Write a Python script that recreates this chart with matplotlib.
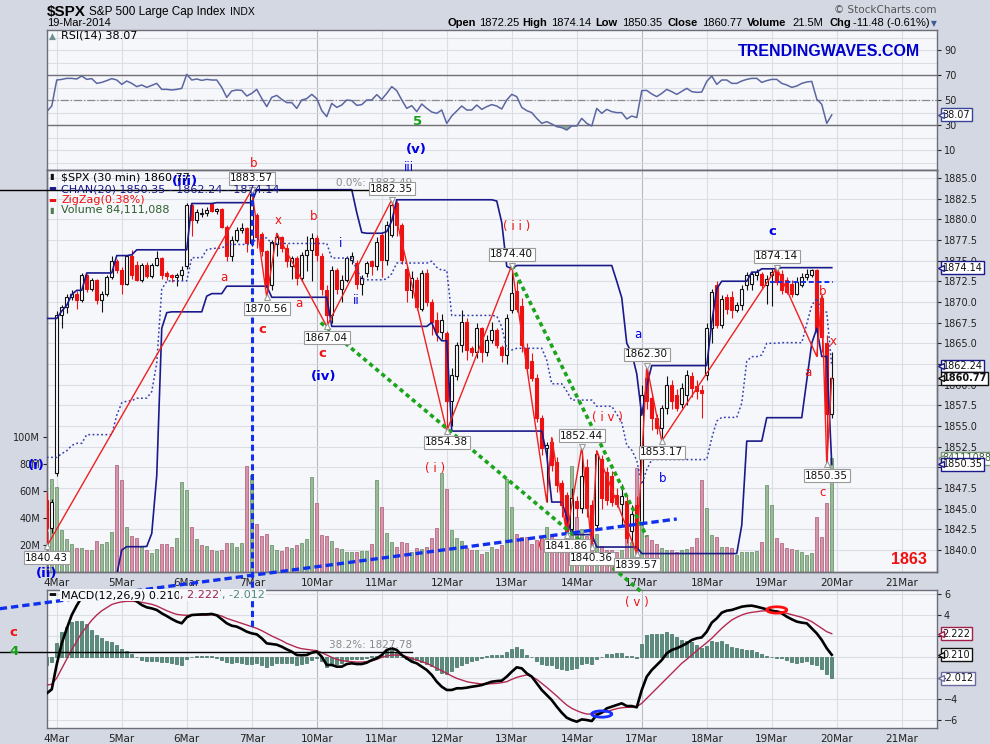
import matplotlib
matplotlib.use("Agg")
import matplotlib.pyplot as plt
from matplotlib.patches import Ellipse
import numpy as np

plt.rcParams["font.family"] = ["DejaVu Sans"]

# 30-minute bars: the last two bars of 3 Mar, then 13 bars per session from 4 Mar to 19 Mar 2014
days = ["4Mar", "5Mar", "6Mar", "7Mar", "10Mar", "11Mar", "12Mar", "13Mar",
        "14Mar", "17Mar", "18Mar", "19Mar", "20Mar", "21Mar"]

opens = [
    1846.0, 1842.7,
    1849.3, 1868.4, 1869.4, 1870.6, 1871.0, 1870.2, 1873.2, 1871.6, 1872.6, 1870.2, 1871.0, 1873.0, 1874.9,
    1873.9, 1872.2, 1875.5, 1874.5, 1872.7, 1874.5, 1873.1, 1874.5, 1875.3, 1873.5, 1873.3, 1873.0, 1873.3,
    1874.3, 1881.7, 1879.9, 1880.6, 1880.8, 1881.8, 1881.0, 1881.2, 1879.1, 1875.5, 1877.5, 1878.7, 1878.9,
    1877.1, 1880.5, 1878.2, 1876.1, 1872.0, 1877.0, 1877.8, 1876.5, 1874.3, 1875.3, 1872.9, 1875.7, 1876.3,
    1877.7, 1875.5, 1871.4, 1868.4, 1873.9, 1871.6, 1872.7, 1875.1, 1874.7, 1872.2, 1873.5, 1874.9, 1874.3,
    1878.1, 1875.1, 1878.1, 1881.9, 1879.3, 1874.0, 1871.4, 1872.7, 1869.2, 1873.5, 1870.0, 1867.8, 1866.4,
    1866.2, 1858.0, 1861.0, 1864.8, 1867.6, 1864.4, 1864.0, 1866.9, 1864.0, 1865.4, 1866.6, 1864.6, 1863.6,
    1869.0, 1871.3, 1869.5, 1864.4, 1862.8, 1860.8, 1856.0, 1852.3, 1853.1, 1850.7, 1848.1, 1846.7, 1842.5,
    1845.9, 1845.1, 1850.0, 1845.5, 1843.0, 1851.0, 1849.4, 1849.0, 1846.6, 1845.6, 1845.9, 1842.3, 1845.5,
    1843.4, 1860.8, 1858.4, 1856.0, 1854.8, 1857.2, 1860.0, 1858.8, 1857.6, 1858.8, 1861.0, 1859.8, 1859.4,
    1861.2, 1866.8, 1872.0, 1867.2, 1870.6, 1870.6, 1869.0, 1869.6, 1872.0, 1872.2, 1873.2, 1873.4, 1872.0,
    1873.2, 1873.8, 1873.4, 1872.6, 1872.2, 1871.0, 1872.0, 1873.0, 1873.2, 1873.8, 1870.5, 1865.0, 1856.5,
]
highs = [
    1847.0, 1846.2,
    1868.9, 1869.6, 1870.9, 1871.4, 1871.3, 1873.5, 1873.4, 1872.9, 1872.8, 1871.3, 1873.3, 1875.6, 1875.2,
    1874.2, 1875.7, 1876.3, 1875.0, 1874.7, 1874.8, 1874.7, 1876.2, 1875.4, 1873.7, 1873.4, 1873.5, 1874.3,
    1881.9, 1881.8, 1881.2, 1881.4, 1881.5, 1882.0, 1881.4, 1881.4, 1879.3, 1878.0, 1879.0, 1879.5, 1879.0,
    1883.57, 1880.8, 1878.4, 1876.3, 1877.5, 1878.3, 1878.0, 1877.0, 1875.6, 1875.5, 1876.0, 1878.0, 1878.3,
    1878.1, 1875.9, 1872.0, 1874.3, 1874.1, 1873.3, 1875.6, 1876.0, 1875.1, 1873.3, 1875.0, 1875.1, 1877.9,
    1878.5, 1879.8, 1882.35, 1882.2, 1879.6, 1874.3, 1873.7, 1873.0, 1873.9, 1874.0, 1870.3, 1868.8, 1868.5,
    1866.5, 1862.0, 1865.2, 1869.0, 1868.0, 1864.7, 1867.4, 1867.0, 1866.0, 1867.6, 1866.8, 1864.8, 1868.5,
    1874.40, 1872.5, 1870.5, 1865.0, 1863.8, 1861.3, 1856.3, 1853.0, 1853.6, 1851.3, 1848.5, 1847.0, 1847.5,
    1846.5, 1852.44, 1851.0, 1846.0, 1852.0, 1851.5, 1850.0, 1849.5, 1847.5, 1848.0, 1846.5, 1845.5, 1846.5,
    1859.9, 1862.30, 1859.0, 1856.5, 1857.5, 1861.0, 1860.6, 1859.5, 1860.2, 1861.8, 1861.5, 1860.5, 1860.0,
    1867.5, 1871.6, 1872.5, 1870.8, 1871.0, 1871.3, 1870.0, 1872.0, 1873.6, 1873.6, 1874.0, 1873.6, 1873.2,
    1874.0, 1874.14, 1873.8, 1873.0, 1872.6, 1873.0, 1873.5, 1874.0, 1874.0, 1874.0, 1870.8, 1866.0, 1864.0,
]
lows = [
    1840.43, 1842.0,
    1849.0, 1866.8, 1868.7, 1870.2, 1869.2, 1870.0, 1871.2, 1871.3, 1869.8, 1868.8, 1870.7, 1872.8, 1873.5,
    1871.0, 1872.0, 1872.8, 1872.5, 1872.4, 1872.9, 1872.9, 1874.3, 1872.8, 1872.6, 1872.4, 1871.9, 1872.7,
    1874.0, 1878.0, 1879.5, 1880.3, 1880.4, 1880.9, 1880.6, 1878.9, 1875.0, 1874.9, 1877.3, 1878.3, 1876.0,
    1876.8, 1876.5, 1875.5, 1870.56, 1871.5, 1875.5, 1876.0, 1874.2, 1872.8, 1872.0, 1872.5, 1873.7, 1872.5,
    1874.9, 1870.8, 1867.04, 1867.5, 1871.0, 1870.0, 1872.4, 1874.6, 1871.6, 1870.8, 1873.0, 1873.2, 1873.9,
    1873.0, 1874.5, 1877.9, 1878.0, 1874.6, 1870.0, 1870.5, 1869.0, 1868.9, 1869.5, 1866.0, 1865.3, 1865.5,
    1854.38, 1855.0, 1860.5, 1863.9, 1863.0, 1863.5, 1863.2, 1862.7, 1863.5, 1865.0, 1864.4, 1862.7, 1862.5,
    1868.6, 1868.8, 1864.0, 1861.5, 1860.4, 1855.5, 1851.5, 1845.8, 1849.5, 1847.0, 1844.0, 1841.86, 1842.0,
    1844.0, 1844.5, 1844.0, 1840.36, 1842.5, 1845.0, 1845.5, 1845.3, 1845.2, 1843.0, 1840.8, 1841.0, 1839.57,
    1843.0, 1857.0, 1854.5, 1854.0, 1853.17, 1856.5, 1857.0, 1856.8, 1857.2, 1857.5, 1858.5, 1858.2, 1856.0,
    1860.5, 1865.0, 1866.8, 1866.8, 1868.5, 1868.0, 1868.8, 1869.0, 1871.4, 1871.4, 1872.6, 1871.6, 1869.8,
    1869.5, 1872.0, 1871.0, 1870.9, 1870.6, 1870.8, 1871.8, 1872.6, 1873.0, 1863.4, 1864.0, 1850.35, 1856.0,
]
closes = [
    1842.7, 1845.8,
    1868.4, 1869.4, 1870.6, 1871.0, 1870.2, 1873.2, 1871.6, 1872.6, 1870.2, 1871.0, 1873.0, 1874.9, 1873.9,
    1872.2, 1875.5, 1873.3, 1872.7, 1874.5, 1873.1, 1874.5, 1875.3, 1873.3, 1873.1, 1873.0, 1873.3, 1873.9,
    1881.7, 1879.9, 1880.9, 1880.8, 1881.1, 1881.0, 1881.2, 1879.1, 1875.5, 1877.5, 1878.7, 1878.9, 1877.1,
    1883.0, 1877.9, 1876.1, 1871.8, 1877.3, 1877.8, 1876.5, 1875.0, 1875.3, 1872.9, 1875.7, 1876.3, 1877.7,
    1875.7, 1871.6, 1868.4, 1873.9, 1871.6, 1872.7, 1875.3, 1875.5, 1872.2, 1872.9, 1874.7, 1874.3, 1877.3,
    1875.1, 1879.3, 1881.7, 1879.3, 1875.1, 1871.4, 1872.9, 1869.4, 1873.5, 1870.0, 1867.6, 1866.4, 1867.8,
    1858.0, 1861.2, 1864.8, 1867.6, 1864.2, 1864.0, 1866.9, 1864.0, 1865.4, 1866.6, 1864.8, 1863.6, 1868.0,
    1871.1, 1869.1, 1864.8, 1862.0, 1860.8, 1856.0, 1852.3, 1852.7, 1850.3, 1847.9, 1845.4, 1842.3, 1846.3,
    1845.1, 1849.0, 1845.1, 1841.1, 1851.6, 1846.3, 1846.0, 1845.8, 1845.6, 1846.5, 1841.5, 1844.3, 1840.2,
    1858.8, 1858.0, 1856.0, 1854.8, 1857.2, 1860.0, 1858.0, 1857.2, 1859.6, 1861.2, 1859.6, 1859.2, 1859.0,
    1866.8, 1871.2, 1867.2, 1870.4, 1869.2, 1869.0, 1869.6, 1871.6, 1873.2, 1873.4, 1873.6, 1872.0, 1872.8,
    1873.6, 1872.4, 1871.4, 1871.2, 1871.0, 1872.4, 1873.0, 1873.4, 1873.8, 1866.5, 1865.8, 1856.5, 1860.77,
]
volume_m = [
    30.0, 68.9,
    62.7, 31.1, 24.4, 20.7, 17.5, 17.5, 16.3, 16.3, 22.9, 20.7, 21.9, 29.6, 79.3,
    68.1, 33.3, 26.7, 24.9, 18.3, 16.3, 14.1, 17.0, 20.5, 21.0, 18.5, 25.2, 66.6,
    60.7, 33.3, 24.4, 20.2, 19.3, 16.3, 15.8, 16.5, 21.2, 21.2, 18.5, 21.2, 78.5,
    72.0, 35.6, 26.7, 27.9, 20.0, 16.3, 15.6, 18.5, 17.8, 20.0, 21.5, 24.4, 70.4,
    51.1, 27.4, 26.7, 22.9, 17.8, 17.0, 14.8, 14.8, 14.8, 15.6, 15.6, 21.0, 68.1,
    48.1, 28.9, 22.2, 18.5, 22.2, 21.5, 14.8, 17.8, 17.0, 18.5, 25.2, 32.6, 73.2,
    61.5, 31.1, 25.2, 22.9, 17.8, 16.3, 16.3, 13.3, 15.1, 18.5, 17.0, 20.0, 68.9,
    48.4, 28.1, 26.2, 26.2, 20.7, 23.7, 25.4, 33.5, 27.7, 22.5, 20.0, 21.2, 78.5,
    41.0, 31.6, 26.7, 21.2, 28.1, 19.3, 16.3, 16.3, 15.1, 16.3, 26.2, 22.5, 76.8,
    48.4, 27.4, 23.7, 20.7, 17.5, 16.3, 16.3, 15.1, 16.3, 16.8, 18.8, 24.9, 68.1,
    47.2, 27.4, 26.2, 18.8, 18.8, 17.5, 12.6, 15.1, 15.1, 15.1, 15.6, 22.5, 64.4,
    49.6, 24.9, 21.7, 17.5, 16.8, 16.3, 15.1, 12.6, 13.8, 41.0, 26.2, 51.4, 84.1,
]
rsi = [
    40.7, 45.2,
    66.0, 66.5, 67.3, 67.3, 66.8, 69.2, 66.5, 67.1, 63.3, 64.1, 65.5, 67.1, 66.0,
    62.5, 65.2, 63.3, 60.7, 62.0, 60.1, 61.7, 63.3, 58.5, 58.5, 58.0, 58.5, 59.3,
    70.5, 66.0, 66.8, 65.7, 66.5, 66.0, 66.0, 60.1, 52.1, 57.2, 58.0, 57.7, 53.2,
    55.3, 58.5, 51.3, 44.7, 52.1, 53.7, 50.5, 47.9, 47.9, 43.3, 50.0, 51.1, 54.5,
    51.1, 41.5, 36.7, 47.3, 44.1, 46.0, 50.0, 49.5, 45.7, 46.3, 50.0, 50.0, 54.3,
    50.5, 55.3, 60.7, 57.5, 50.0, 43.3, 45.5, 40.7, 46.8, 43.3, 40.4, 39.3, 42.0,
    31.3, 37.2, 41.2, 45.2, 42.0, 42.0, 46.0, 42.5, 44.7, 46.3, 45.2, 42.8, 50.0,
    54.5, 52.7, 44.1, 41.5, 39.9, 35.3, 31.3, 32.7, 30.8, 28.7, 27.9, 26.0, 29.2,
    29.2, 35.3, 31.3, 29.2, 43.3, 39.3, 42.5, 40.7, 39.9, 39.9, 34.8, 37.2, 35.9,
    57.5, 57.7, 54.8, 52.7, 55.3, 58.5, 56.7, 54.5, 56.9, 59.3, 56.7, 56.1, 56.4,
    64.9, 69.2, 62.5, 66.0, 66.0, 63.3, 63.3, 65.2, 66.5, 67.3, 67.3, 64.1, 65.5,
    66.5, 66.5, 63.3, 62.0, 60.1, 61.2, 63.3, 64.4, 64.9, 50.8, 46.5, 31.3, 38.07,
]
macd = [
    -3.46, -3.08,
    -0.70, 1.30, 2.70, 4.00, 4.90, 5.70, 6.00, 6.10, 6.10, 6.20, 6.20, 6.40, 6.30,
    6.00, 5.90, 5.60, 5.30, 4.95, 4.73, 4.63, 4.48, 4.16, 3.90, 3.62, 3.37, 3.21,
    3.78, 4.00, 4.03, 4.06, 4.06, 4.10, 3.97, 3.59, 3.21, 2.98, 2.89, 2.67, 2.41,
    2.25, 2.16, 1.78, 1.30, 1.24, 1.17, 0.98, 0.73, 0.51, 0.19, 0.16, 0.19, 0.41,
    0.51, 0.03, -0.76, -0.76, -0.92, -0.92, -0.67, -0.60, -0.67, -0.67, -0.54, -0.29, -0.13,
    0.19, 0.67, 0.83, 0.67, 0.19, -0.13, -0.44, -0.60, -0.92, -1.24, -1.71, -2.35, -2.83,
    -3.14, -3.14, -2.98, -2.98, -2.92, -2.83, -2.76, -2.67, -2.51, -2.35, -2.29, -2.25, -1.87,
    -1.40, -0.98, -1.08, -1.56, -1.87, -2.51, -3.14, -3.62, -4.10, -4.73, -5.30, -5.78, -6.00,
    -6.16, -5.94, -6.00, -6.10, -5.52, -5.30, -4.89, -4.73, -4.57, -4.41, -4.67, -4.67, -4.79,
    -3.14, -1.87, -1.24, -0.76, -0.29, 0.35, 0.67, 0.83, 1.05, 1.30, 1.62, 1.78, 1.87,
    2.41, 3.27, 3.68, 4.22, 4.41, 4.48, 4.63, 4.79, 4.86, 4.89, 4.79, 4.67, 4.54,
    4.41, 4.32, 4.16, 3.84, 3.59, 3.37, 3.27, 3.21, 2.73, 2.25, 1.62, 0.83, 0.210,
]
signal = [
    -2.67, -2.60,
    -2.00, -1.10, -0.20, 0.70, 1.50, 2.30, 2.90, 3.50, 4.00, 4.40, 4.70, 5.00, 5.15,
    5.25, 5.30, 5.30, 5.27, 5.21, 5.11, 5.02, 4.86, 4.63, 4.41, 4.22, 4.06, 4.00,
    3.97, 3.97, 3.97, 3.97, 4.00, 4.03, 4.03, 3.90, 3.68, 3.52, 3.37, 3.21, 3.05,
    2.89, 2.73, 2.51, 2.25, 2.00, 1.78, 1.56, 1.30, 1.11, 0.92, 0.79, 0.73, 0.67,
    0.60, 0.41, 0.19, -0.03, -0.22, -0.35, -0.41, -0.44, -0.48, -0.48, -0.44, -0.38, -0.22,
    -0.03, 0.10, 0.19, 0.19, 0.16, 0.03, -0.13, -0.29, -0.44, -0.60, -0.83, -1.08, -1.30,
    -1.56, -1.81, -2.03, -2.19, -2.35, -2.44, -2.51, -2.57, -2.57, -2.54, -2.51, -2.44, -2.35,
    -2.13, -1.94, -1.81, -1.71, -1.87, -2.13, -2.51, -2.89, -3.30, -3.71, -4.16, -4.57, -4.89,
    -5.11, -5.30, -5.43, -5.43, -5.37, -5.30, -5.21, -5.05, -4.92, -4.83, -4.79, -4.79, -4.73,
    -4.41, -3.94, -3.46, -2.98, -2.51, -2.03, -1.56, -1.08, -0.60, -0.22, 0.19, 0.60, 0.98,
    1.37, 1.78, 2.25, 2.73, 3.14, 3.52, 3.78, 4.00, 4.16, 4.25, 4.32, 4.38, 4.41,
    4.41, 4.41, 4.29, 4.16, 4.03, 3.90, 3.78, 3.59, 3.37, 3.05, 2.73, 2.41, 2.222,
]

# 20-bar price channel carried in from before the first bar shown
chan_hi_before = 1868.0
chan_lo_head = [1834.4, 1834.4, 1834.4, 1834.4, 1834.4, 1834.4, 1834.4, 1834.4, 1834.4, 1834.4,
                1834.4, 1834.4, 1834.4, 1834.4, 1837.0, 1840.0, 1840.4, 1840.4, 1840.4, 1840.4]

# ZigZag(0.38%) turning points (bar, price)
zz_bar = [-2, 39, 42, 44, 54, 67, 78, 91, 98, 99, 102, 105, 107, 108, 116, 118, 121, 144, 152, 153, 154, 155]
zz_price = [1840.43, 1883.57, 1870.56, 1878.3, 1867.04, 1882.35, 1854.38, 1874.40, 1845.8, 1853.6,
            1841.86, 1852.44, 1840.36, 1852.0, 1839.57, 1862.30, 1853.17, 1874.14, 1863.4, 1870.8,
            1850.35, 1860.77]

# labelled pivots: bar, price, above?
pivot_bar = [-2, 39, 42, 54, 67, 78, 91, 102, 105, 107, 116, 118, 121, 144, 154]
pivot_price = [1840.43, 1883.57, 1870.56, 1867.04, 1882.35, 1854.38, 1874.40, 1841.86, 1852.44,
               1840.36, 1839.57, 1862.30, 1853.17, 1874.14, 1850.35]
pivot_above = [False, True, False, False, True, False, True, False, True, False, False, True,
               False, True, False]

# hand-drawn trend lines (bar, price)
green1 = ([52.8, 117.0], [1867.5, 1834.9])
green2 = ([91.0, 118.0], [1874.4, 1841.6])
blue_support = ([-11.4, 124.0], [1832.9, 1843.75])
blue_flat = ([142.6, 155.2], [1872.4, 1872.4])
fib_0 = 1883.49

# Elliott wave labels: bar, price, text, colour, bold
waves = [
    (39.4, 1886.7, "b", "red", False), (33.4, 1873.0, "a", "red", False),
    (44.2, 1879.9, "x", "red", False), (51.4, 1880.3, "b", "red", False),
    (48.4, 1869.8, "a", "red", False), (41.2, 1866.7, "c", "red", True),
    (53.2, 1863.8, "c", "red", True), (92.0, 1879.1, "( i i )", "red", False),
    (75.6, 1849.8, "( i )", "red", False), (99.6, 1840.5, "( i i i )", "red", False),
    (110.2, 1856.0, "( i v )", "red", False), (116.0, 1833.7, "( v )", "red", False),
    (153.2, 1871.2, "b", "red", False), (155.2, 1865.2, "x", "red", False),
    (150.2, 1861.5, "a", "red", False), (153.2, 1846.9, "c", "red", False),
    (-8.6, 1830.0, "c", "red", True),
    (25.6, 1884.6, "(iii)", "blue", True), (72.0, 1888.4, "(v)", "blue", True),
    (70.4, 1886.3, "iii", "blue", False), (56.8, 1877.1, "i", "blue", False),
    (60.0, 1870.2, "ii", "blue", False), (53.4, 1861.0, "(iv)", "blue", True),
    (-2.0, 1837.2, "(ii)", "blue", True), (-4.0, 1850.2, "(i)", "blue", True),
    (116.2, 1866.1, "a", "blue", False), (121.2, 1848.6, "b", "blue", False),
    (143.2, 1878.5, "c", "blue", True),
    (72.2, 1891.8, "5", "green", True), (-8.6, 1827.7, "4", "green", True),
]

# ---------------------------------------------------------------------------
W, H = 990, 744
BG = "#d4d8e2"
PANEL = "#f6f7fb"
GRID = "#dcdee6"
WAVE_COL = {"red": "#f01010", "blue": "#0000e6", "green": "#16a016"}
ARIAL = ["Liberation Sans", "DejaVu Sans"]


def P(x, y):
    return x / W, 1 - y / H


idx = np.arange(-2, len(closes) - 2)
o = np.array(opens)
h = np.array(highs)
l = np.array(lows)
c = np.array(closes)
n = len(c)

upper = np.empty(n)
lower = np.empty(n)
for k in range(n):
    if k < 20:
        upper[k] = max([chan_hi_before] + highs[:k])
        lower[k] = chan_lo_head[k]
    else:
        upper[k] = max(highs[k - 20:k])
        lower[k] = min(lows[k - 20:k])
middle = (upper + lower) / 2

fig = plt.figure(figsize=(W / 100, H / 100), dpi=100)
fig.patch.set_facecolor(BG)

ax_rsi = fig.add_axes([47 / W, 1 - 170 / H, 890 / W, 140 / H])
ax_m = fig.add_axes([47 / W, 1 - 728 / H, 890 / W, 138 / H])
ax_v = fig.add_axes([47 / W, 1 - 572 / H, 890 / W, 402 / H])
ax_p = fig.add_axes([47 / W, 1 - 572 / H, 890 / W, 402 / H])
ax_p.set_facecolor("none")

XL = (-1.95, 176.05)
for ax in (ax_rsi, ax_m, ax_v, ax_p):
    ax.set_xlim(*XL)
    for s in ax.spines.values():
        s.set_color("#6e6e78")
        s.set_linewidth(1)
for ax in (ax_rsi, ax_m, ax_v):
    ax.set_facecolor(PANEL)
    for d in range(len(days)):
        ax.axvline(13 * d, color="#b8bac4" if d in (4, 9) else GRID, lw=0.8, zorder=0)

ax_rsi.set_ylim(-6, 106)
ax_p.set_ylim(1837.34, 1885.95)
ax_v.set_ylim(0, 297.8)
ax_m.set_ylim(-6.76, 6.38)

for v in range(0, 101, 10):
    ax_rsi.axhline(v, color=GRID, lw=0.8, zorder=0)
for v in range(-6, 7, 2):
    ax_m.axhline(v, color=GRID, lw=0.8, zorder=0)

# ---------------- RSI ----------------
r = np.array(rsi)
ax_rsi.axhline(70, color="#707078", lw=1)
ax_rsi.axhline(30, color="#707078", lw=1)
ax_rsi.axhline(50, color="#8a8a90", lw=0.9, ls="-.")
ax_rsi.fill_between(idx, r, 30, where=r < 30, interpolate=True, color="#6f9a8a", alpha=0.8, lw=0)
ax_rsi.plot(idx, r, color="#5b66a0", lw=1.1)
ax_rsi.yaxis.tick_right()
ax_rsi.set_yticks([10, 30, 50, 70, 90])
ax_rsi.set_xticks([])
ax_rsi.tick_params(axis="y", labelsize=7, length=3, colors="#222", pad=2)

# ---------------- volume (behind price) ----------------
vol_up = np.r_[False, c[1:] >= c[:-1]]
ax_v.bar(idx, volume_m, width=0.6, color=np.where(vol_up, "#9bb89b", "#d594a8"),
         edgecolor=np.where(vol_up, "#6f9a6f", "#b56a84"), lw=0.6, zorder=1)
for v in np.arange(1840, 1886, 2.5):
    yv = (v - 1837.34) / (1885.95 - 1837.34) * 297.8
    ax_v.axhline(yv, color=GRID, lw=0.8, zorder=0)
ax_v.set_yticks([20, 40, 60, 80, 100])
ax_v.set_yticklabels(["20M", "40M", "60M", "80M", "100M"])
ax_v.tick_params(axis="y", labelsize=7, length=3, colors="#222", pad=2)
ax_v.set_xticks([])

# ---------------- price ----------------
up = c >= o
ax_p.vlines(idx, l, h, colors=np.where(up, "#111111", "#ee1111"), lw=0.8, zorder=3)
ax_p.bar(idx, np.maximum(np.abs(c - o), 0.06), bottom=np.minimum(o, c), width=0.6,
         color=np.where(up, "white", "#ee1111"), edgecolor=np.where(up, "#111111", "#ee1111"),
         lw=0.8, zorder=4)
ax_p.plot(idx, upper, color="#1a1a8a", lw=1.2, zorder=5)
ax_p.plot(idx, lower, color="#1a1a8a", lw=1.2, zorder=5)
ax_p.plot(idx, middle, color="#3540b0", lw=1.1, ls=(0, (1.2, 1.6)), zorder=5)
ax_p.plot(zz_bar, zz_price, color="#f02020", lw=1, zorder=6)

ax_p.plot(*green1, color="#1aa51a", lw=2.6, ls=(0, (1.2, 1.0)), clip_on=False, zorder=7)
ax_p.plot(*green2, color="#1aa51a", lw=2.6, ls=(0, (1.2, 1.0)), clip_on=False, zorder=7)
ax_p.plot(*blue_support, color="#1030ee", lw=2.4, ls=(0, (2.2, 1.2)), clip_on=False, zorder=7)
ax_p.plot(*blue_flat, color="#1030ee", lw=1.4, ls=(0, (2.5, 1.5)), zorder=7)
ax_p.plot([39, 39], [1883.57, 1830.3], color="#1030ee", lw=2.2, ls=(0, (2.0, 1.2)),
          clip_on=False, zorder=7)
ax_p.plot([-11.4, 71], [fib_0, fib_0], color="black", lw=1, clip_on=False, zorder=6)
ax_p.text(71, fib_0 + 0.25, "0.0%: 1883.49", ha="right", va="bottom", fontsize=7.5,
          color="#8a8a8a", zorder=8)

for b, p, above in zip(pivot_bar, pivot_price, pivot_above):
    ax_p.annotate(f"{p:.2f}", (b, p), xytext=(0, 4.5 if above else -4.5),
                  textcoords="offset points", ha="center", va="bottom" if above else "top",
                  fontsize=7.5, color="#111", zorder=12, annotation_clip=False,
                  bbox=dict(boxstyle="square,pad=0.15", fc="white", ec="#9a9a9a", lw=0.8))
    ax_p.plot([b], [p], marker="v" if above else "^", ms=4, mfc="white", mec="#9a9a9a",
              mew=0.8, zorder=11, clip_on=False)

for b, p, t, col, bold in waves:
    ax_p.text(b, p, t, ha="center", va="center", color=WAVE_COL[col],
              fontsize=9.5 if bold else 8.5, fontweight="bold" if bold else "normal", zorder=9)
ax_p.text(170.4, 1838.8, "1863", ha="center", va="center", color="#f01010", fontsize=11.5,
          fontweight="bold", family=ARIAL, zorder=9)

ax_p.yaxis.tick_right()
ax_p.set_yticks(np.arange(1840, 1886, 2.5))
ax_p.set_yticklabels([f"{v:.1f}" for v in np.arange(1840, 1886, 2.5)])
ax_p.tick_params(axis="y", labelsize=7, length=3, colors="#222", pad=2)
ax_p.set_xticks([13 * d for d in range(len(days))])
ax_p.set_xticklabels(days)
ax_p.tick_params(axis="x", labelsize=7.5, length=0, pad=4, colors="#222")

# ---------------- MACD ----------------
m = np.array(macd)
s = np.array(signal)
ax_m.bar(idx, m - s, width=0.6, color="#5b8d7d", edgecolor="#3f6f60", lw=0.5, zorder=2)
ax_m.plot(idx, s, color="#b3294f", lw=1, zorder=3)
ax_m.plot(idx, m, color="black", lw=1.9, zorder=4)
ax_m.plot([-11.4, 71], [0.45, 0.45], color="black", lw=1, clip_on=False, zorder=5)
ax_m.text(71, 0.7, "38.2%: 1827.78", ha="right", va="bottom", fontsize=7.5, color="#8a8a8a",
          zorder=6)
ax_m.add_patch(Ellipse((144, 4.48), 4.0, 0.6, fill=False, ec="#ff1010", lw=2, zorder=6))
ax_m.add_patch(Ellipse((109, -5.43), 4.0, 0.6, fill=False, ec="#1530ff", lw=2, zorder=6))
ax_m.yaxis.tick_right()
ax_m.set_yticks(range(-6, 7, 2))
ax_m.tick_params(axis="y", labelsize=7, length=3, colors="#222", pad=2)
ax_m.set_xticks([13 * d for d in range(len(days))])
ax_m.set_xticklabels(days)
ax_m.tick_params(axis="x", labelsize=7.5, length=0, pad=4, colors="#222")


# ---------------- right-hand value tags ----------------
def tag(ax, y, text, ec, tc="#111", bold=False):
    ax.annotate(text, xy=(1, y), xycoords=("axes fraction", "data"), xytext=(4, 0),
                textcoords="offset points", ha="left", va="center", fontsize=7, color=tc,
                fontweight="bold" if bold else "normal", annotation_clip=False, zorder=20,
                bbox=dict(boxstyle="square,pad=0.15", fc="white", ec=ec, lw=1))
    ax.plot([1.005], [y], marker="<", ms=4.5, mfc="white", mec=ec, mew=1,
            transform=ax.get_yaxis_transform(), clip_on=False, zorder=21)


tag(ax_rsi, rsi[-1], f"{rsi[-1]:.2f}", "#3a4496")
tag(ax_v, volume_m[-1], "84111088", "#7a9a7a", tc="#3b5b3b")
tag(ax_p, upper[-1], f"{upper[-1]:.2f}", "#1a1a8a")
tag(ax_p, middle[-1], f"{middle[-1]:.2f}", "#1a1a8a")
tag(ax_p, lower[-1], f"{lower[-1]:.2f}", "#1a1a8a")
tag(ax_p, closes[-1], f"{closes[-1]:.2f}", "#111111", bold=True)
tag(ax_m, signal[-1], f"{signal[-1]:.3f}", "#a0204a")
tag(ax_m, macd[-1], f"{macd[-1]:.3f}", "#111111")
tag(ax_m, macd[-1] - signal[-1], f"{macd[-1] - signal[-1]:.3f}", "#6a6aa0")

# ---------------- header and legends ----------------
renderer = fig.canvas.get_renderer()


def text_run(x, y, parts):
    # place pieces of text one after another, starting at pixel x
    for t, size, bold, gap in parts:
        txt = fig.text(*P(x, y), t, fontsize=size, fontweight="bold" if bold else "normal",
                       va="center", family=ARIAL)
        x = txt.get_window_extent(renderer).x1 + gap


text_run(47, 12, [("$SPX", 11, True, 3), ("S&P 500 Large Cap Index", 8.5, False, 5),
                  ("INDX", 7.5, False, 0)])
fig.text(*P(47, 23.5), "19-Mar-2014", fontsize=8, va="center", family=ARIAL)
fig.text(*P(936, 10), "© StockCharts.com", fontsize=7.5, color="#555", ha="right", va="center")

quote = [("Open", 447, True), ("1872.25", 479, False), ("High", 522, True),
         ("1874.14", 551, False), ("Low", 595, True), ("1850.35", 622, False),
         ("Close", 667, True), ("1860.77", 702, False), ("Volume", 747, True),
         ("21.5M", 792, False), ("Chg", 829, True), ("-11.48 (-0.61%)", 853, False)]
for t, x, bold in quote:
    fig.text(*P(x, 23.5), t, fontsize=8, fontweight="bold" if bold else "normal", va="center",
             family=ARIAL)
fig.text(*P(934, 24), "▼", fontsize=5.5, color="#3d5a99", va="center", ha="center")

fig.text(*P(829, 51), "TRENDINGWAVES.COM", fontsize=11.5, fontweight="bold", color="#0000cc",
         ha="center", va="center", family=ARIAL)

fig.text(*P(52, 36), "▲", fontsize=6.5, color="#6f9090", ha="center", va="center")
fig.text(*P(61, 36), f"RSI(14) {rsi[-1]:.2f}", fontsize=8, va="center")

fig.text(*P(52, 177), "▮", fontsize=6, color="#111", ha="center", va="center")
fig.text(*P(61, 177), "$SPX (30 min) 1860.77", fontsize=8, va="center")
fig.text(*P(52, 189), "▬", fontsize=6, color="#1a1a8a", ha="center", va="center")
fig.text(*P(61, 189), "CHAN(20) 1850.35 - 1862.24 - 1874.14", fontsize=8, color="#1a1a8a",
         va="center")
fig.text(*P(52, 200), "▬", fontsize=6, color="#ee1111", ha="center", va="center")
fig.text(*P(61, 200), "ZigZag(0.38%)", fontsize=8, color="#ee1111", va="center")
fig.text(*P(52, 210), "▮", fontsize=6, color="#4f7f4f", ha="center", va="center")
fig.text(*P(61, 210), "Volume 84,111,088", fontsize=8, color="#2e5e2e", va="center")

fig.text(*P(52, 595), "▬", fontsize=6, color="#111", ha="center", va="center")
fig.text(*P(61, 595), "MACD(12,26,9) 0.210", fontsize=8, va="center",
         bbox=dict(boxstyle="square,pad=0.1", fc=PANEL, ec="none"))
fig.text(*P(180, 595), ", 2.222", fontsize=8, color="#a0204a", va="center",
         bbox=dict(boxstyle="square,pad=0.1", fc=PANEL, ec="none"))
fig.text(*P(222, 595), ", -2.012", fontsize=8, color="#4f8a7a", va="center",
         bbox=dict(boxstyle="square,pad=0.1", fc=PANEL, ec="none"))

fig.savefig("out.png", dpi=100, facecolor=BG)
